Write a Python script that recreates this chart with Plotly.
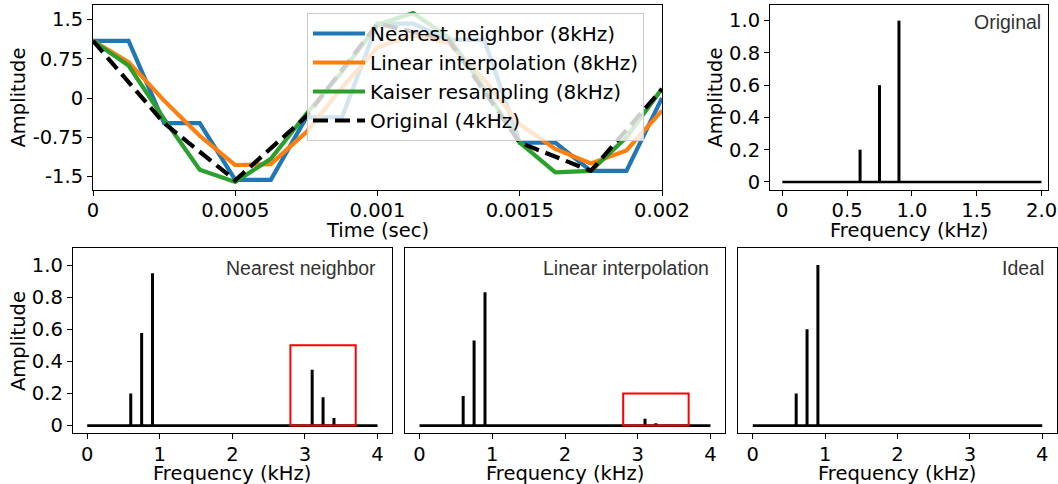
import plotly.graph_objects as go

# ---------------- data ----------------
t8 = [0, 0.000125, 0.00025, 0.000375, 0.0005, 0.000625, 0.00075, 0.000875,
      0.001, 0.001125, 0.00125, 0.001375, 0.0015, 0.001625, 0.00175, 0.001875, 0.002]
t4 = [0, 0.00025, 0.0005, 0.00075, 0.001, 0.00125, 0.0015, 0.00175, 0.002]

nearest = [1.09, 1.09, -0.48, -0.48, -1.56, -1.56, -0.37, -0.37, 1.42, 1.42,
           1.11, 1.11, -0.85, -0.85, -1.39, -1.39, 0.0]
linear = [1.09, 0.685, -0.05, -0.72, -1.28, -1.26, -0.65, 0.2, 0.97, 1.2,
          1.05, 0.35, -0.5, -0.97, -1.25, -1.0, -0.24]
kaiser = [1.09, 0.62, -0.40, -1.37, -1.60, -1.16, -0.30, 0.5, 1.40, 1.62,
          1.16, 0.19, -0.85, -1.42, -1.39, -0.75, 0.18]
original = [1.09, -0.48, -1.57, -0.35, 1.42, 1.11, -0.85, -1.39, 0.17]

series_names = ["Nearest neighbor (8kHz)", "Linear interpolation (8kHz)",
                "Kaiser resampling (8kHz)", "Original (4kHz)"]
series_colors = ["#1f77b4", "#ff7f0e", "#2ca02c", "black"]

time_ticks = [0, 0.0005, 0.001, 0.0015, 0.002]
time_ticklabels = ["0", "0.0005", "0.001", "0.0015", "0.002"]
amp_ticks = [1.5, 0.75, 0, -0.75, -1.5]
amp_ticklabels = ["1.5", "0.75", "0", "-0.75", "-1.5"]

orig_freqs = [0.6, 0.75, 0.9]
orig_amps = [0.2, 0.6, 1.0]
orig_freq_span = [0, 2.0]

alias_freqs = [0.6, 0.75, 0.9, 3.1, 3.25, 3.4]
nearest_amps = [0.2, 0.577, 0.948, 0.348, 0.177, 0.048]
linear_amps = [0.185, 0.53, 0.83, 0.042, 0.015, 0.005]
ideal_freqs = [0.6, 0.75, 0.9]
ideal_amps = [0.2, 0.6, 1.0]
freq_span = [0, 4.0]

nearest_box = [2.8, 3.7, 0.0, 0.5]
linear_box = [2.8, 3.7, 0.0, 0.2]

spec_ticks = [0, 0.2, 0.4, 0.6, 0.8, 1.0]
spec_ticklabels = ["0", "0.2", "0.4", "0.6", "0.8", "1.0"]
f2_ticks = [0, 0.5, 1.0, 1.5, 2.0]
f2_ticklabels = ["0", "0.5", "1.0", "1.5", "2.0"]
f4_ticks = [0, 1, 2, 3, 4]
f4_ticklabels = ["0", "1", "2", "3", "4"]

# ---------------- layout helpers ----------------
W, H = 1058, 484
FONT = "DejaVu Sans"
FS = 19.5


def px_x(v):
    return v / W


def px_y(v):
    return 1 - v / H


fig = go.Figure()

# time-domain lines
for name, ys, xs, col in zip(series_names, [nearest, linear, kaiser, original],
                             [t8, t8, t8, t4], series_colors):
    dash = "15px,7px" if col == "black" else "solid"
    fig.add_trace(go.Scatter(x=xs, y=ys, mode="lines", name=name,
                             legendgroup=name, xaxis="x", yaxis="y",
                             line=dict(color=col, width=4.2, dash=dash)))


def stems(freqs, amps, span, xa, ya):
    xs, ys = [], []
    for f, a in zip(freqs, amps):
        xs += [f, f, None]
        ys += [0, a, None]
    fig.add_trace(go.Scatter(x=span, y=[0, 0], mode="lines", showlegend=False,
                             xaxis=xa, yaxis=ya, hoverinfo="skip",
                             line=dict(color="black", width=2.6)))
    fig.add_trace(go.Scatter(x=xs, y=ys, mode="lines", showlegend=False,
                             xaxis=xa, yaxis=ya,
                             line=dict(color="black", width=3)))


stems(orig_freqs, orig_amps, orig_freq_span, "x2", "y2")
stems(alias_freqs, nearest_amps, freq_span, "x3", "y3")
stems(alias_freqs, linear_amps, freq_span, "x4", "y4")
stems(ideal_freqs, ideal_amps, freq_span, "x5", "y5")

for box, xa, ya in [(nearest_box, "x3", "y3"), (linear_box, "x4", "y4")]:
    fig.add_shape(type="rect", xref=xa, yref=ya, x0=box[0], x1=box[1],
                  y0=box[2], y1=box[3], line=dict(color="red", width=2),
                  fillcolor="rgba(0,0,0,0)")

axis_common = dict(showline=True, mirror=True, linecolor="black", linewidth=1,
                   ticks="outside", ticklen=5, tickwidth=1, tickcolor="black",
                   showgrid=False, zeroline=False, automargin=False,
                   tickfont=dict(family=FONT, size=FS, color="black"))
xaxis_common = {**axis_common, "ticklabelstandoff": -2}

top_dom = [px_y(190), px_y(5)]
bot_dom = [px_y(433.3), px_y(248.3)]

fig.update_layout(
    template="none",
    width=W, height=H, autosize=False, margin=dict(l=0, r=0, t=0, b=0, pad=0),
    paper_bgcolor="white", plot_bgcolor="white",
    font=dict(family=FONT, size=FS, color="black"),
    showlegend=True,
    xaxis=dict(domain=[px_x(93), px_x(662)], range=[0, 0.002], anchor="y",
               tickvals=time_ticks, ticktext=time_ticklabels, **xaxis_common),
    yaxis=dict(domain=top_dom, range=[-1.755, 1.775], anchor="x",
               tickvals=amp_ticks, ticktext=amp_ticklabels, **axis_common),
    xaxis2=dict(domain=[px_x(770), px_x(1048)], range=[-0.095, 2.05], anchor="y2",
                tickvals=f2_ticks, ticktext=f2_ticklabels, **xaxis_common),
    yaxis2=dict(domain=top_dom, range=[-0.05, 1.097], anchor="x2",
                tickvals=spec_ticks, ticktext=spec_ticklabels, **axis_common),
    xaxis3=dict(domain=[px_x(72.7), px_x(392)], range=[-0.2, 4.2], anchor="y3",
                tickvals=f4_ticks, ticktext=f4_ticklabels, **xaxis_common),
    yaxis3=dict(domain=bot_dom, range=[-0.048, 1.104], anchor="x3",
                tickvals=spec_ticks, ticktext=spec_ticklabels, **axis_common),
    xaxis4=dict(domain=[px_x(405), px_x(725)], range=[-0.2, 4.2], anchor="y4",
                tickvals=f4_ticks, ticktext=f4_ticklabels, **xaxis_common),
    yaxis4=dict(domain=bot_dom, range=[-0.048, 1.104], anchor="x4",
                **{**axis_common, "ticks": "", "showticklabels": False}),
    xaxis5=dict(domain=[px_x(738.3), px_x(1056.7)], range=[-0.2, 4.2], anchor="y5",
                tickvals=f4_ticks, ticktext=f4_ticklabels, **xaxis_common),
    yaxis5=dict(domain=bot_dom, range=[-0.048, 1.104], anchor="x5",
                **{**axis_common, "ticks": "", "showticklabels": False}),
    legend=dict(x=px_x(307), y=px_y(13), xanchor="left", yanchor="top",
                bgcolor="rgba(255,255,255,0.8)", bordercolor="#cccccc",
                borderwidth=1, traceorder="grouped", tracegroupgap=0,
                itemwidth=52,
                font=dict(family=FONT, size=20, color="black")),
)

# axis titles
titles = [
    ("Amplitude", 18, 97.5, -90),
    ("Time (sec)", 377.5, 230, 0),
    ("Amplitude", 715, 97.5, -90),
    ("Frequency (kHz)", 909, 230, 0),
    ("Amplitude", 18, 341, -90),
    ("Frequency (kHz)", 232, 473, 0),
    ("Frequency (kHz)", 565, 473, 0),
    ("Frequency (kHz)", 897, 473, 0),
]
for text, x, y, ang in titles:
    fig.add_annotation(text=text, xref="paper", yref="paper", x=px_x(x), y=px_y(y),
                       xanchor="center", yanchor="middle", showarrow=False,
                       textangle=ang, font=dict(family=FONT, size=FS, color="black"))

# panel labels
labels = [
    ("Original", 1043, 22),
    ("Nearest neighbor", 378, 268),
    ("Linear interpolation", 711, 268),
    ("Ideal", 1046, 268),
]
for text, x, y in labels:
    fig.add_annotation(text=text, xref="paper", yref="paper", x=px_x(x), y=px_y(y),
                       xanchor="right", yanchor="middle", showarrow=False,
                       font=dict(family="Liberation Sans", size=FS, color="#333333"))

post = ("document.body.style.margin='0';document.body.style.padding='0';"
        "document.body.style.overflow='hidden';"
        "Plotly.relayout('{plot_id}', {width: 1058, height: 484});")
fig.write_html("out.html", post_script=post, config={"displayModeBar": False})
